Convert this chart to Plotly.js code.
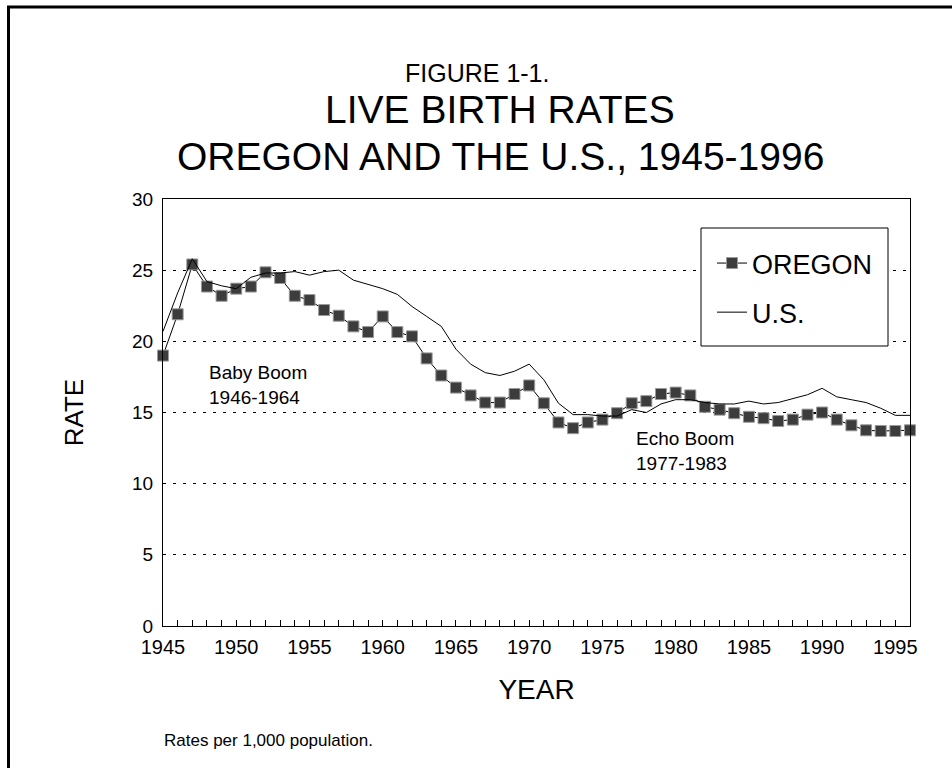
<!DOCTYPE html>
<html>
<head>
<meta charset="utf-8">
<script src="https://cdn.plot.ly/plotly-3.0.1.min.js"></script>
<style>
  html, body { margin: 0; padding: 0; background: #ffffff; }
  #chart { width: 952px; height: 768px; }
</style>
</head>
<body>
<div id="chart"></div>
<script>
// ---- data ----
const years = [1945,1946,1947,1948,1949,1950,1951,1952,1953,1954,1955,1956,1957,1958,1959,
  1960,1961,1962,1963,1964,1965,1966,1967,1968,1969,1970,1971,1972,1973,1974,1975,1976,
  1977,1978,1979,1980,1981,1982,1983,1984,1985,1986,1987,1988,1989,1990,1991,1992,1993,
  1994,1995,1996];

const oregonRates = [19.0,21.9,25.4,23.85,23.2,23.7,23.85,24.85,24.45,23.2,22.9,22.2,21.8,21.05,20.65,
  21.75,20.65,20.35,18.8,17.6,16.75,16.2,15.7,15.7,16.3,16.9,15.65,14.3,13.9,14.3,14.5,14.95,
  15.65,15.8,16.3,16.4,16.2,15.4,15.2,14.95,14.7,14.6,14.4,14.5,14.85,15.0,14.5,14.1,13.75,
  13.7,13.7,13.75];

const usRates = [20.7,23.4,25.8,24.2,23.9,23.7,24.5,24.8,24.8,24.9,24.65,24.9,25.0,24.3,24.0,
  23.7,23.3,22.45,21.75,21.05,19.45,18.4,17.8,17.6,17.9,18.4,17.3,15.65,14.85,14.85,14.75,14.75,
  15.2,15.0,15.6,15.9,15.9,15.7,15.6,15.6,15.8,15.6,15.7,15.95,16.25,16.7,16.1,15.9,15.7,
  15.3,14.8,14.8];

const seriesNames = ["OREGON", "U.S."];
const xTickVals = [1945,1950,1955,1960,1965,1970,1975,1980,1985,1990,1995];
const yTickVals = [0,5,10,15,20,25,30];
const titleLines = ["FIGURE 1-1.", "LIVE BIRTH RATES", "OREGON AND THE U.S., 1945-1996"];
const notes = [
  {text: "Baby Boom<br>1946-1964", x: 1948.0, y: 18.7},
  {text: "Echo Boom<br>1977-1983", x: 1977.15, y: 14.05}
];
const footnote = "Rates per 1,000 population.";

// ---- layout helpers ----
const W = 952, H = 768;
const M = {l: 163, r: 42, t: 199, b: 142};
const PW = W - M.l - M.r, PH = H - M.t - M.b;
const px = x => (x - M.l) / PW;          // pixel -> paper x
const py = y => (H - M.b - y) / PH;       // pixel -> paper y
const FONT = "Liberation Sans, Arial, Helvetica, sans-serif";

const traces = [
  {
    x: years, y: oregonRates, name: seriesNames[0], type: "scatter", mode: "lines+markers",
    legendgroup: "a", cliponaxis: false,
    line: {color: "#000000", width: 1},
    marker: {symbol: "square", size: 11, color: "#3c3c3c", line: {color: "#9a9a9a", width: 1}}
  },
  {
    x: years, y: usRates, name: seriesNames[1], type: "scatter", mode: "lines",
    legendgroup: "b",
    line: {color: "#000000", width: 1}
  }
];

const annotations = [
  {text: titleLines[0], xref: "paper", yref: "paper", x: px(477), y: py(73), xanchor: "center", yanchor: "middle", showarrow: false, font: {size: 25, color: "#000"}},
  {text: titleLines[1], xref: "paper", yref: "paper", x: px(500), y: py(109), xanchor: "center", yanchor: "middle", showarrow: false, font: {size: 39, color: "#000"}},
  {text: titleLines[2], xref: "paper", yref: "paper", x: px(500), y: py(156), xanchor: "center", yanchor: "middle", showarrow: false, font: {size: 39, color: "#000"}},
  {text: footnote, xref: "paper", yref: "paper", x: px(162), y: py(740), xanchor: "left", yanchor: "middle", showarrow: false, font: {size: 17, color: "#000"}}
];
notes.forEach(n => annotations.push({
  text: n.text, x: n.x, y: n.y, xref: "x", yref: "y", xanchor: "left", yanchor: "top",
  align: "left", showarrow: false, font: {size: 19, color: "#000"}
}));

const shapes = [
  // outer frame (left and top edges visible)
  {type: "rect", xref: "paper", yref: "paper", x0: px(8.5), x1: px(1100), y0: py(900), y1: py(7.0),
   line: {color: "#000", width: 3}, fillcolor: "rgba(0,0,0,0)", layer: "below"},
  // legend box
  {type: "rect", xref: "paper", yref: "paper", x0: px(701), x1: px(888), y0: py(346), y1: py(228),
   line: {color: "#000", width: 1}, fillcolor: "#ffffff", layer: "above"}
];

const layout = {
  width: W, height: H,
  margin: M,
  paper_bgcolor: "#ffffff", plot_bgcolor: "#ffffff",
  font: {family: FONT, color: "#000000", size: 20},
  showlegend: true,
  legend: {
    x: px(712), y: py(239), xanchor: "left", yanchor: "top",
    bgcolor: "rgba(0,0,0,0)", borderwidth: 0,
    font: {size: 27, color: "#000"}, tracegroupgap: 11, traceorder: "grouped", itemwidth: 30
  },
  xaxis: {
    range: [1945, 1996], tickvals: xTickVals, ticktext: xTickVals.map(String),
    showgrid: false, zeroline: false,
    showline: true, linecolor: "#000", linewidth: 1, mirror: true,
    ticks: "inside", ticklen: 6, tickcolor: "#000", tickwidth: 1,
    minor: {dtick: 1, tick0: 1945, ticks: "inside", ticklen: 6, tickcolor: "#000", tickwidth: 1, showgrid: false},
    tickfont: {size: 20}, ticklabelstandoff: 3,
    title: {text: "YEAR", font: {size: 28}, standoff: 22}
  },
  yaxis: {
    range: [0, 30], tickvals: yTickVals, ticktext: yTickVals.map(String),
    showgrid: true, gridcolor: "#000", gridwidth: 1, griddash: "3px,7px",
    zeroline: false,
    showline: true, linecolor: "#000", linewidth: 1, mirror: true,
    ticks: "", ticklabelstandoff: 5,
    tickfont: {size: 19},
    title: {text: "RATE", font: {size: 26}, standoff: 40}
  },
  annotations: annotations,
  shapes: shapes
};

Plotly.newPlot("chart", traces, layout, {displayModeBar: false, staticPlot: true});
</script>
</body>
</html>
